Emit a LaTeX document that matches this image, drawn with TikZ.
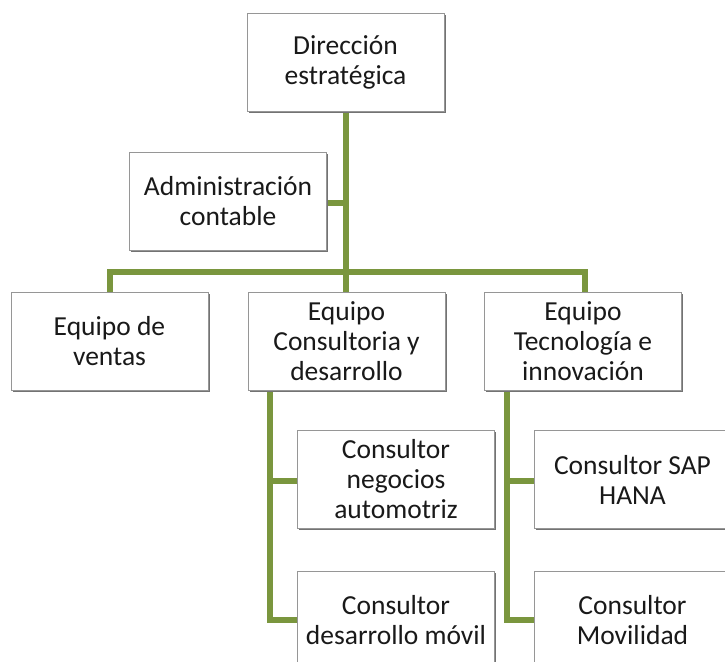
\documentclass[tikz,border=0pt]{standalone}
\usepackage{fontspec}
\setmainfont{Carlito}
\usetikzlibrary{shadows,calc}
\definecolor{linegreen}{RGB}{122,150,62}
\definecolor{boxgray}{RGB}{150,150,150}
\begin{document}
\begin{tikzpicture}[x=1pt,y=-1pt,
  box/.style={draw=boxgray, line width=0.9pt, fill=white, minimum width=197pt, minimum height=98pt,
    align=center, inner sep=2pt, font=\fontsize{27.5}{30}\selectfont, text=black!90,
    drop shadow={shadow xshift=1.5pt, shadow yshift=-1.8pt, fill=black!55, opacity=1}},
  conn/.style={draw=linegreen, line width=5.5pt, line join=miter}]
\useasboundingbox (0,0) rectangle (725,661);
\clip (0,0) rectangle (725,661);
\fill[white] (0,0) rectangle (725,661);
% connectors (drawn first, boxes cover the ends)
\coordinate (hub) at (346,272);
\coordinate (top) at (346,105);
\coordinate (cL) at (270,385);
\coordinate (cR) at (507,385);
\draw[conn] (top) -- (hub);
\draw[conn] (110,297) |- (hub) -| (585,297);
\draw[conn] (346,272) -- (346,297);
\draw[conn] (322,203) -- (346,203);
\draw[conn] (cL) |- (302,481);
\draw[conn] (cL) |- (302,620);
\draw[conn] (cR) |- (539,481);
\draw[conn] (cR) |- (539,620);
% boxes
\node[box] (dir) at (345.5,62) {Dirección\\estratégica};
\node[box] (admin) at (228,201.5) {Administración\\contable};
\node[box] (ventas) at (109.5,341) {Equipo de\\ventas};
\node[box] (consul) at (346.5,341) {Equipo\\Consultoria y\\desarrollo};
\node[box] (tec) at (583,341) {Equipo\\Tecnología e\\innovación};
\node[box] (neg) at (396,479.5) {Consultor\\negocios\\automotriz};
\node[box] (mov) at (396,620) {Consultor\\desarrollo móvil};
\node[box] (sap) at (632.5,479.5) {Consultor SAP\\HANA};
\node[box] (movl) at (632.5,620) {Consultor\\Movilidad};
\end{tikzpicture}
\end{document}
